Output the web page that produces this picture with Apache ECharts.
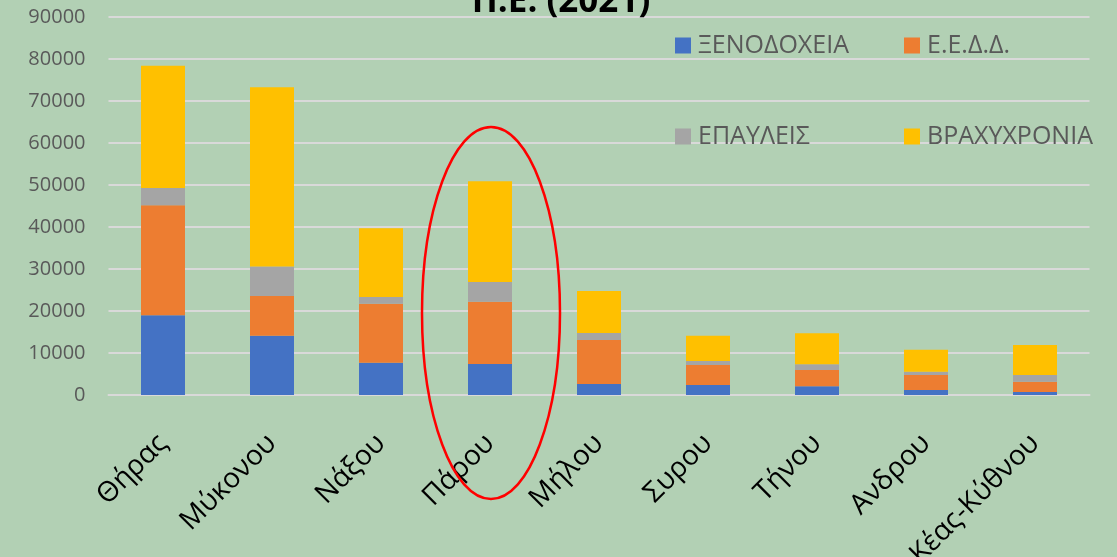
<!DOCTYPE html>
<html>
<head>
<meta charset="utf-8">
<script src="https://cdn.jsdelivr.net/npm/echarts@6/dist/echarts.min.js"></script>
<style>
html, body { margin: 0; padding: 0; background: #b2d0b4; }
#chart { width: 1117px; height: 557px; }
</style>
</head>
<body>
<div id="chart"></div>
<script>
// κατηγορίες (Π.Ε.)
const categories = ['Θήρας', 'Μύκονου', 'Νάξου', 'Πάρου', 'Μήλου', 'Συρου', 'Τήνου', 'Ανδρου', 'Κέας-Κύθνου'];
const seriesNames = ['ΞΕΝΟΔΟΧΕΙΑ', 'Ε.Ε.Δ.Δ.', 'ΕΠΑΥΛΕΙΣ', 'ΒΡΑΧΥΧΡΟΝΙΑ'];
const xenodoxeia = [19000, 14100, 7700, 7400, 2600, 2400, 2100, 1200, 700];
const eedd = [26200, 9500, 14000, 14800, 10500, 4750, 3850, 3550, 2450];
const epauleis = [4100, 7000, 1650, 4700, 1650, 950, 1350, 800, 1600];
const vraxyxronia = [29100, 42700, 16350, 24000, 10000, 6000, 7400, 5250, 7150];
const yTicks = { min: 0, max: 90000, interval: 10000 };

const colors = ['#4472C4', '#ED7D31', '#A5A5A5', '#FFC000'];
const values = [xenodoxeia, eedd, epauleis, vraxyxronia];

const chart = echarts.init(document.getElementById('chart'));

// ένα legend για κάθε στοιχείο (πλέγμα 2x2)
const legendPos = [
    { left: 670, top: 28 },
    { left: 899, top: 28 },
    { left: 670, top: 119 },
    { left: 899, top: 119 }
];
const legends = seriesNames.map((name, i) => ({
    data: [name],
    left: legendPos[i].left,
    top: legendPos[i].top,
    icon: 'rect',
    itemWidth: 16,
    itemHeight: 16,
    itemGap: 0,
    selectedMode: false,
    textStyle: {
        color: '#595959',
        fontSize: 25,
        fontFamily: 'Open Sans',
        padding: [0, 0, 0, 2]
    }
}));

const option = {
    backgroundColor: '#b2d0b4',
    color: colors,
    animation: false,
    title: {
        text: 'Π.Ε. (2021)',
        left: 556,
        top: -20,
        textAlign: 'center',
        textStyle: {
            color: '#000',
            fontSize: 35,
            fontWeight: 'bold',
            fontFamily: 'Open Sans'
        }
    },
    legend: legends,
    grid: {
        left: 108.5,
        right: 27.5,
        top: 17,
        bottom: 162,
        containLabel: false,
        outerBoundsMode: 'none'
    },
    xAxis: {
        type: 'category',
        data: categories,
        axisLine: { show: true, lineStyle: { color: '#d9d9d9', width: 2 } },
        axisTick: { show: false },
        axisLabel: {
            rotate: 45,
            margin: 44,
            color: '#000',
            fontSize: 28,
            fontFamily: 'Open Sans',
            interval: 0
        }
    },
    yAxis: {
        type: 'value',
        min: yTicks.min,
        max: yTicks.max,
        interval: yTicks.interval,
        axisLine: { show: false },
        axisTick: { show: false },
        axisLabel: {
            color: '#595959',
            fontSize: 20,
            fontFamily: 'Open Sans',
            margin: 23,
            formatter: (v) => String(v)
        },
        splitLine: { lineStyle: { color: '#d9d9d9', width: 2 } }
    },
    series: seriesNames.map((name, i) => ({
        name: name,
        type: 'bar',
        stack: 'total',
        barWidth: 44,
        data: values[i],
        itemStyle: { color: colors[i] }
    }))
};
chart.setOption(option);

// κόκκινη έλλειψη γύρω από την Πάρο
const cx = chart.convertToPixel({ xAxisIndex: 0 }, 'Πάρου');
const cy = chart.convertToPixel({ yAxisIndex: 0 }, 20000);
chart.setOption({
    graphic: [{
        type: 'ellipse',
        shape: { cx: cx + 1, cy: cy + 2, rx: 69, ry: 186 },
        style: { fill: 'none', stroke: '#ff0000', lineWidth: 2.5 },
        z: 100
    }]
});
</script>
</body>
</html>
